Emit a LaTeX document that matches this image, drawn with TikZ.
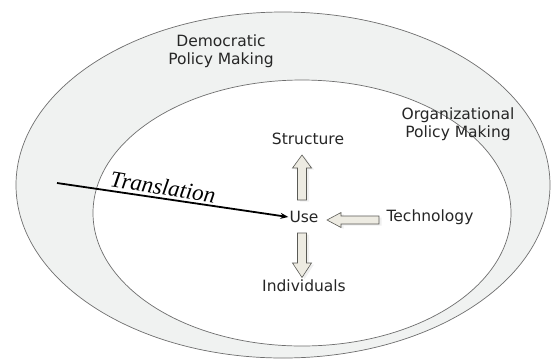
\documentclass[tikz,border=0pt]{standalone}
\usepackage{fontspec}
\setsansfont{DejaVu Sans}
\newfontfamily\serifit{Liberation Serif}
\usetikzlibrary{arrows.meta,shadows,calc}
\definecolor{ringfill}{HTML}{F0F2F1}
\definecolor{edgegray}{HTML}{6E6E6E}
\definecolor{blockfill}{HTML}{EDEBE2}
\definecolor{blockedge}{HTML}{5A5A55}
\tikzset{
  region/.style={draw=edgegray, line width=0.7pt},
  label/.style={font=\sffamily\fontsize{15.5}{18.5}\selectfont, text=black!85, align=center, inner sep=1pt},
  blockarrow/.style={draw=blockedge, fill=blockfill, line width=0.6pt, line join=miter,
    drop shadow={shadow xshift=2.5pt, shadow yshift=-1.5pt, opacity=0.12}},
  flow/.style={line width=1.8pt, -{Stealth[length=8pt,width=6pt]}}
}
\begin{document}
\begin{tikzpicture}[x=1pt,y=-1pt]
  \useasboundingbox (0,0) rectangle (551,360);
  % nested policy-making regions
  \draw[region, fill=ringfill] (283,185) ellipse [x radius=267, y radius=173];
  \draw[region, fill=white] (302,213) ellipse [x radius=209, y radius=133];

  % region labels
  \node[label] (dem) at (221,51) {Democratic\\Policy Making};
  \node[label] (org) at (458,124) {Organizational\\Policy Making};

  % core concepts
  \node[label] (use) at (304,217) {Use};
  \node[label] (structure) at (308,139) {Structure};
  \node[label] (technology) at (430,217) {Technology};
  \node[label] (individuals) at (304,286) {Individuals};

  % block arrows around Use
  % up: Use -> Structure
  \path[blockarrow] (297.5,200) -- (297.5,168) -- (292.5,168) -- (302,155)
    -- (311.5,168) -- (306.5,168) -- (306.5,200) -- cycle;
  % down: Use -> Individuals
  \path[blockarrow] (297.5,233) -- (297.5,263) -- (292.5,263) -- (302,277.5)
    -- (311.5,263) -- (306.5,263) -- (306.5,233) -- cycle;
  % left: Technology -> Use
  \path[blockarrow] (379,216) -- (341,216) -- (341,212.5) -- (327,220)
    -- (341,227.5) -- (341,224) -- (379,224) -- cycle;

  % translation flow into Use
  \coordinate (src) at (57,183);
  \draw[flow] (src) -- (use.west);
  \node[font=\serifit\itshape\fontsize{23}{26}\selectfont, rotate=-9, inner sep=0pt] (transl) at (163,187) {Translation};
\end{tikzpicture}
\end{document}
